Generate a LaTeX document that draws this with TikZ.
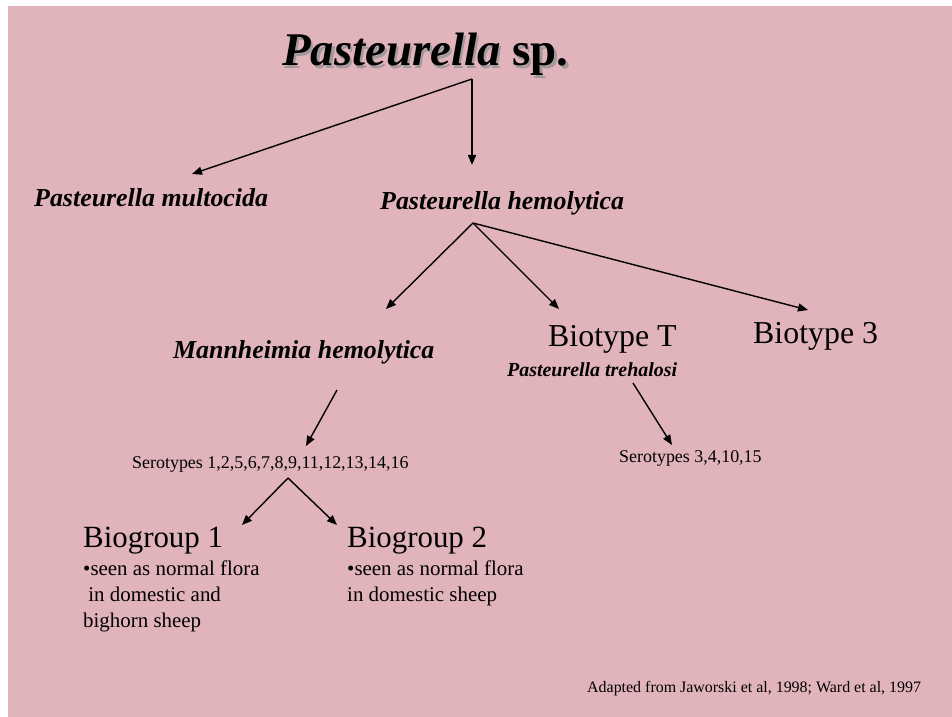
\documentclass[tikz,border=0pt]{standalone}
\usepackage{fontspec}
\setmainfont{Liberation Serif}
\usetikzlibrary{arrows.meta}
\definecolor{Slide}{HTML}{E1B3BB}
\definecolor{Paper}{HTML}{FFFFFF}
\definecolor{Shade}{HTML}{A09A9B}
\definecolor{Ink}{HTML}{000000}
\begin{document}
\begin{tikzpicture}[x=1bp,y=-1bp,>={Triangle[length=10bp,width=8bp]},every node/.style={inner sep=0pt,anchor=base west,text=Ink},
  link/.style={->,line width=1.4bp,Ink},taxon/.style={font=\fontsize{26}{30}\selectfont\bfseries\itshape},
  rank/.style={font=\fontsize{32}{36}\selectfont},sero/.style={font=\fontsize{18}{22}\selectfont},
  note/.style={font=\fontsize{21}{26}\selectfont,align=left}]
\useasboundingbox (0,0) rectangle (952,717); \fill[Paper] (0,0) rectangle (952,717); \fill[Slide] (8,6) rectangle (952,717);
% title with its grey shadow
\node[text=Shade,font=\fontsize{47}{50}\selectfont\bfseries] (titleshade) at (284.5,68.5){\itshape Pasteurella\upshape\ sp.};
\node[font=\fontsize{47}{50}\selectfont\bfseries] (title) at (282,66){\itshape Pasteurella\upshape\ sp.};
\node[taxon] (multo) at (34,206){Pasteurella multocida}; \node[taxon] (hemo) at (380,209){Pasteurella hemolytica};
\node[taxon] (mannh) at (173,358){Mannheimia hemolytica};
\node[rank] (biotT) at (548,346){Biotype T}; \node[rank] (biot3) at (753,343){Biotype 3};
\node[font=\fontsize{20}{24}\selectfont\bfseries\itshape] (treh) at (507,376){Pasteurella trehalosi};
\node[sero] (sero) at (132,468){Serotypes 1,2,5,6,7,8,9,11,12,13,14,16}; \node[sero] (serT) at (619,462){Serotypes 3,4,10,15};
\node[rank,font=\fontsize{31}{36}\selectfont] (bg1) at (83,547){Biogroup 1}; \node[rank,font=\fontsize{31}{36}\selectfont] (bg2) at (347,547){Biogroup 2};
% multi-line notes sit on their last line
\node[note] (bg1note) at (83,627){•seen as normal flora\\\ in domestic and\\bighorn sheep};
\node[note] (bg2note) at (347,601){•seen as normal flora\\in domestic sheep};
\node[font=\fontsize{16}{20}\selectfont] (source) at (587,692){Adapted from Jaworski et al, 1998; Ward et al, 1997};
% forks and arrow ends
\coordinate (titlefork) at (472,79); \coordinate (multotip) at (192,174); \coordinate (hemotip) at (472,165);
\coordinate (hemofork) at (473,223); \coordinate (mannhtip) at (386,309); \coordinate (biotTtip) at (559,309); \coordinate (biot3tip) at (808,310);
\coordinate (mannhfoot) at (337,390); \coordinate (serotip) at (306,446); \coordinate (trehfoot) at (633,383); \coordinate (serTtip) at (672,445);
\coordinate (serofork) at (288,478); \coordinate (bg1tip) at (242,525); \coordinate (bg2tip) at (337,525);
\draw[link] (titlefork)--(multotip); \draw[link] (titlefork)--(hemotip);
\draw[link] (hemofork)--(mannhtip); \draw[link] (hemofork)--(biotTtip); \draw[link] (hemofork)--(biot3tip);
\draw[link] (mannhfoot)--(serotip); \draw[link] (trehfoot)--(serTtip);
\draw[link] (serofork)--(bg1tip); \draw[link] (serofork)--(bg2tip);
\end{tikzpicture}
\end{document}
